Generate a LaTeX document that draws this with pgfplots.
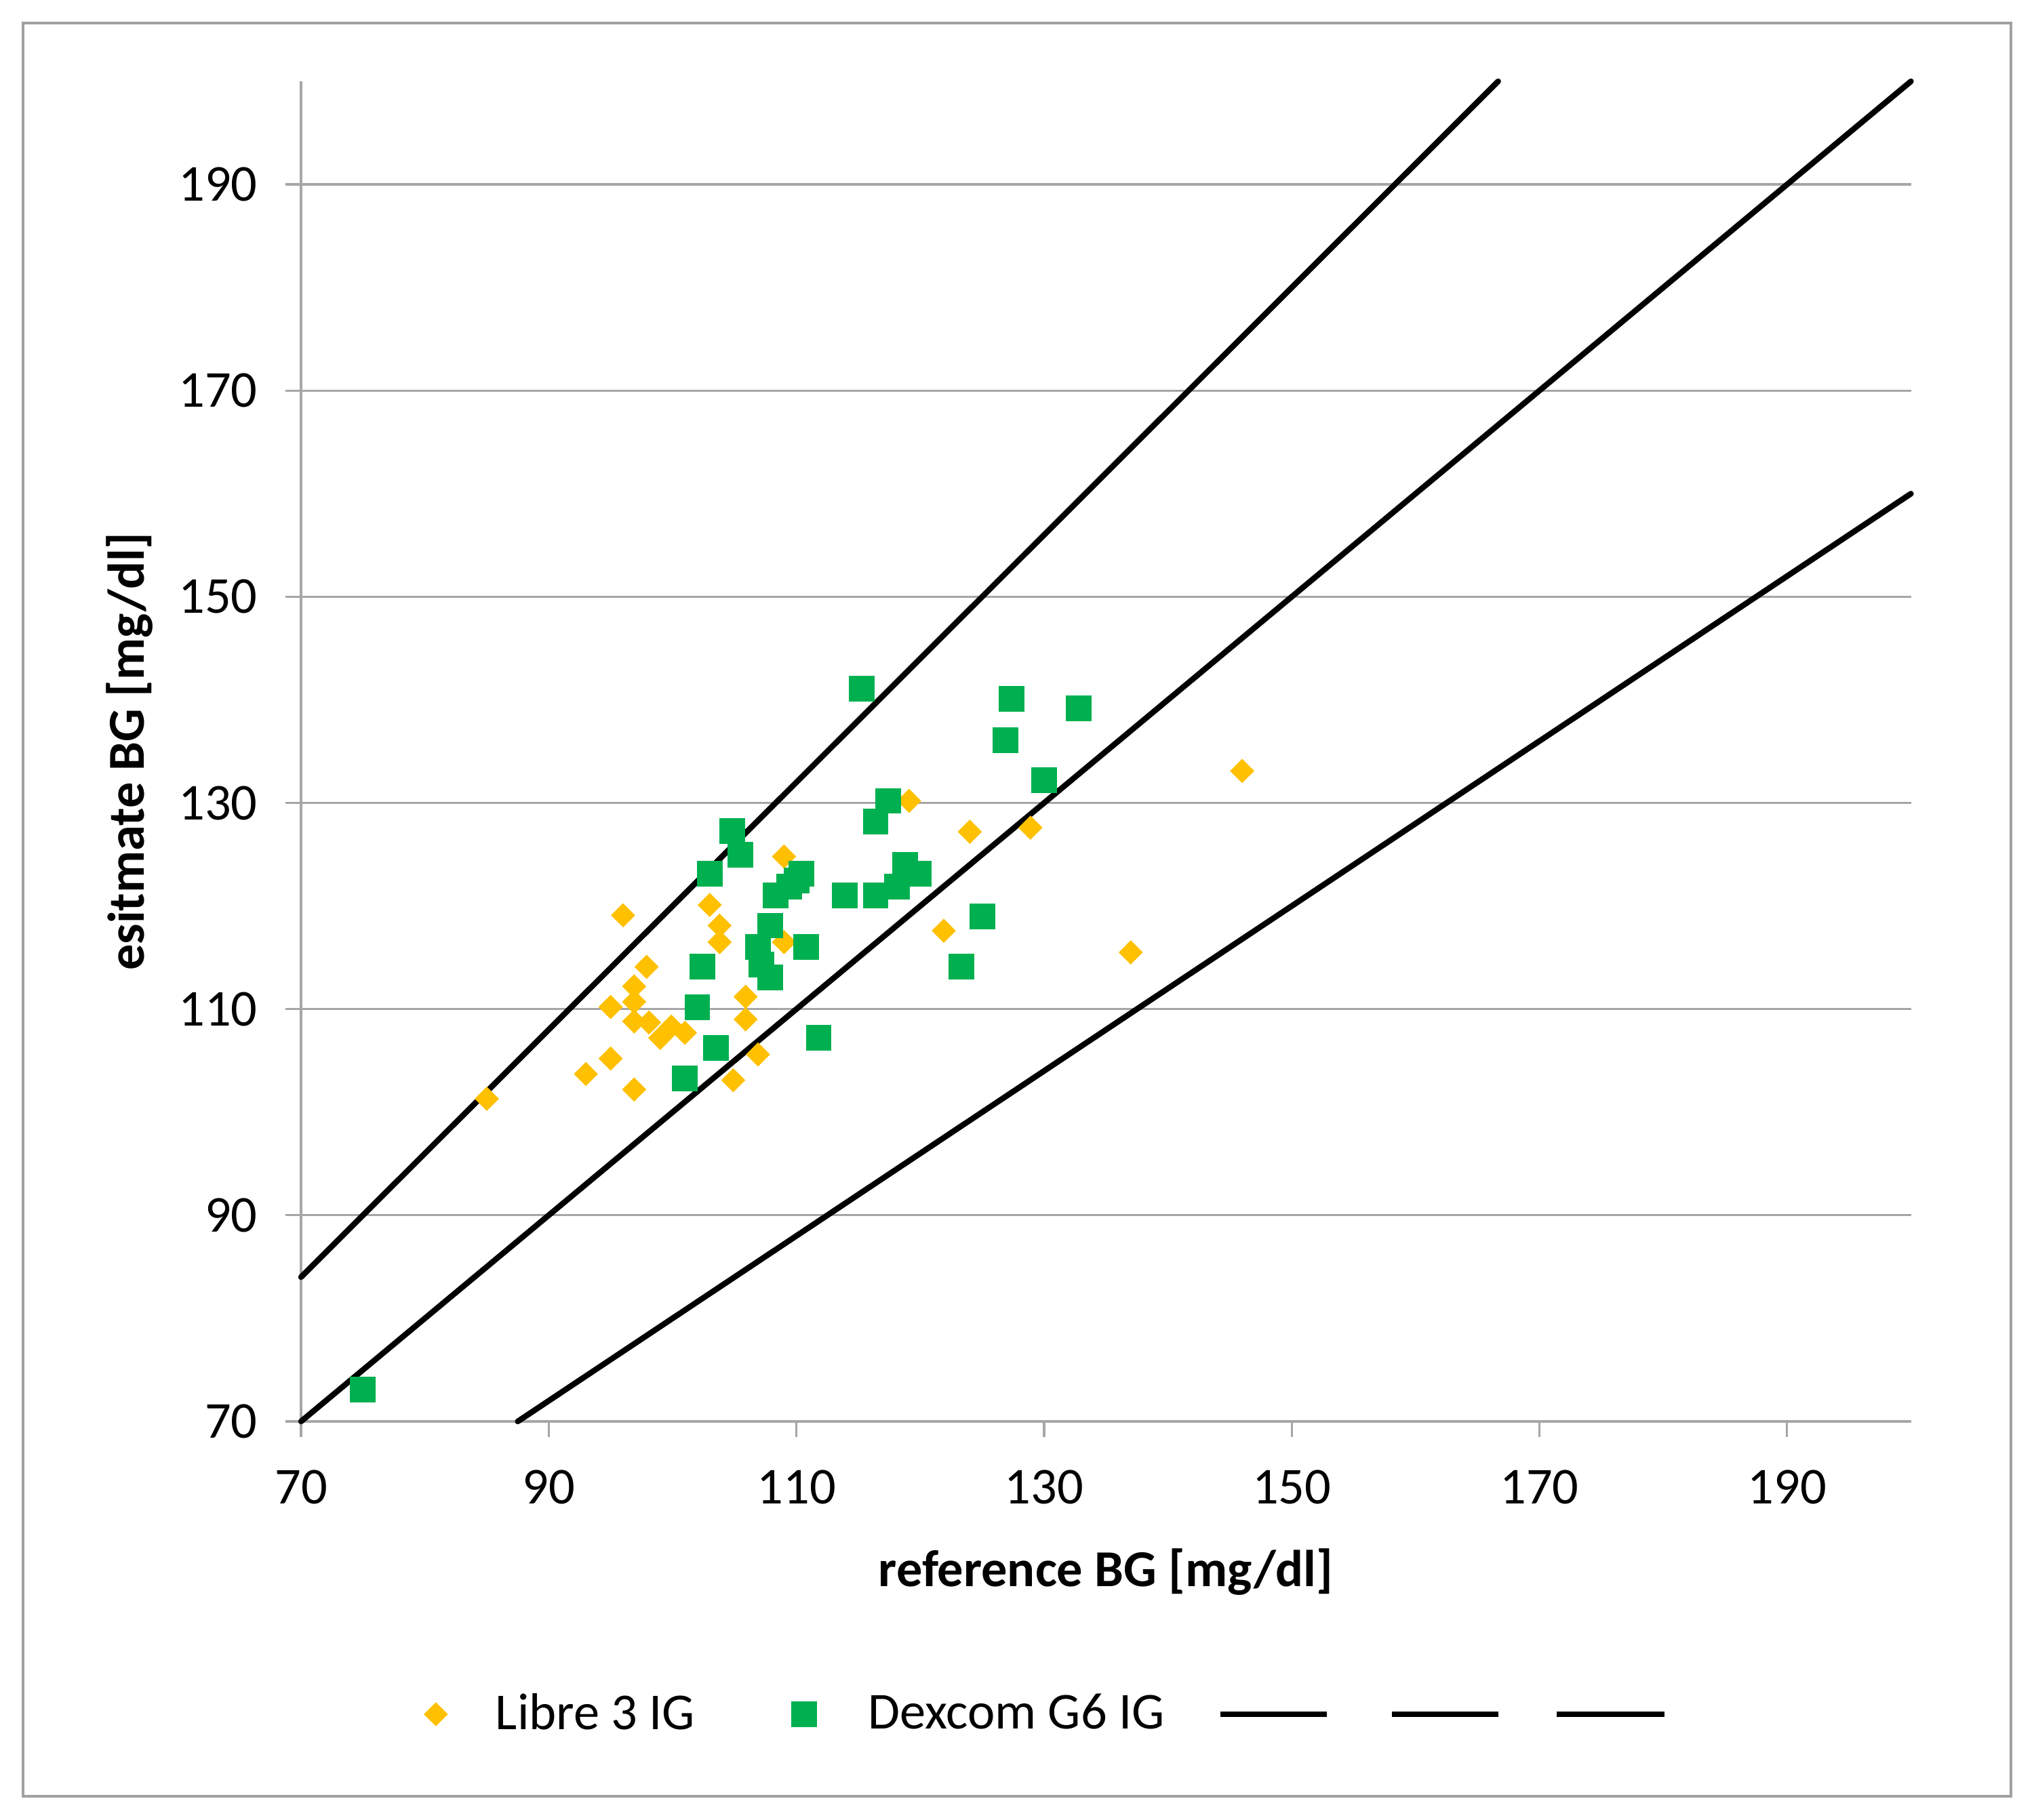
\documentclass[border=0pt]{standalone}
\usepackage{fontspec}
\setmainfont{Carlito}
\usepackage{pgfplots}
\pgfplotsset{compat=1.18}

\definecolor{libre}{HTML}{FFC000}
\definecolor{dexcom}{HTML}{00B050}
\definecolor{gridgray}{HTML}{A6A6A6}
\definecolor{framegray}{HTML}{A0A0A0}

\pgfplotsset{
    libreleg/.style={legend image code/.code={\path[draw=none] (0cm,0cm) -- (0.70cm,0cm); \draw[##1] plot coordinates {(0.113cm,0cm)};}},
    dexleg/.style={legend image code/.code={\path[draw=none] (0cm,0cm) -- (1.7cm,0cm); \draw[##1] plot coordinates {(1.073cm,0cm)};}},
    lineleg/.style 2 args={legend image code/.code={\path[draw=none] (0cm,0cm) -- (#2,0cm); \draw[##1, line cap=butt] (#1,0cm) -- (#2,0cm);}},
}

\begin{document}
\begin{tikzpicture}
\path[use as bounding box] (-2.96,-3.92) rectangle (17.04,13.98);
\draw[framegray, line width=0.7pt] (-2.733,-3.687) rectangle (16.813,13.753);
\begin{axis}[
    scale only axis,
    width=15.83cm, height=13.18cm,
    xmin=70, xmax=200, ymin=70, ymax=200,
    xtick={70,90,...,190}, ytick={70,90,...,190},
    axis x line*=bottom, axis y line*=left,
    axis line style={gridgray, line width=0.6pt, -},
    ymajorgrids, grid style={gridgray, line width=0.6pt},
    tick style={gridgray, line width=0.6pt},
    tick align=outside, major tick length=0.155cm,
    clip=false,
    /pgf/number format/assume math mode=true,
    ticklabel style={font=\fontsize{14.5}{17}\selectfont},
    xticklabel style={yshift=-0.2cm},
    yticklabel style={xshift=-0.15cm},
    xlabel={\textbf{reference BG [mg/dl]}},
    ylabel={\textbf{esitmate BG [mg/dl]}},
    every axis x label/.style={at={(axis description cs:0.5,-0.1123)}, anchor=center, font=\fontsize{14.5}{17}\selectfont},
    every axis y label/.style={at={(axis description cs:-0.1065,0.5)}, anchor=center, rotate=90, font=\fontsize{14.5}{17}\selectfont},
    legend columns=-1,
    legend style={draw=none, fill=none, at={(axis description cs:0.0695,-0.2185)}, anchor=west,
        font=\fontsize{14.5}{17}\selectfont, nodes={inner sep=0pt},
        /tikz/every odd column/.style={column sep=0pt},
        /tikz/every even column/.style={column sep=0pt}},
]
\addplot[only marks, mark=diamond*, mark size=3.1pt, color=libre,
    mark options={fill=libre, draw=libre, xscale=1.333}, libreleg]
coordinates {
(85,101.3) (93,103.7) (95,110.2) (95,105.2) (96,119.1) (96.9,112.2)
(96.9,110.7) (96.9,108.8) (96.9,102.2) (97.9,114.1) (98.1,108.7) (99,107.2)
(99.9,108.3) (101,107.7) (103,120.1) (103.8,118.1) (103.8,116.5) (104.9,103.1)
(105.9,111.2) (105.9,109) (106.9,105.6) (109,124.8) (109,116.5) (119.1,130.2)
(121.9,117.6) (124,127.2) (128.9,127.6) (137,115.5) (146,133.1)
};
\addlegendentry{Libre 3 IG}
\addplot[only marks, mark=square*, mark size=3.4pt, color=dexcom,
    mark options={fill=dexcom, draw=dexcom}, dexleg]
coordinates {
(75,73.1) (101,103.3) (102,110.2) (102.4,114.1) (103,123.1) (103.5,106.2)
(104.8,127.3) (105.5,125) (106.9,116) (107.2,114.3) (107.9,113.1) (107.9,118.1)
(108.3,121) (109.4,121.9) (110,122.5) (110.4,123.1) (110.8,116) (111.8,107.2)
(113.9,121) (115.3,141.1) (116.4,121) (116.4,128.2) (117.4,130.2) (118.1,121.9)
(118.8,124) (119.9,123.1) (123.3,114.1) (125,119) (126.9,136.1) (127.4,140.1)
(130,132.2) (132.8,139.2)
};
\addlegendentry{Dexcom G6 IG}
\addplot[black, line width=1.6pt, line cap=round, lineleg={0.55cm}{1.597cm}]
coordinates {(70,84) (125,150) (166.667,200)};
\addlegendentry{}
\addplot[black, line width=1.6pt, line cap=round, lineleg={0.573cm}{1.62cm}]
coordinates {(70,70) (125,125) (200,200)};
\addlegendentry{}
\addplot[black, line width=1.6pt, line cap=round, lineleg={0.51cm}{1.57cm}]
coordinates {(87.5,70) (125,100) (200,160)};
\addlegendentry{}
\end{axis}
\end{tikzpicture}
\end{document}
